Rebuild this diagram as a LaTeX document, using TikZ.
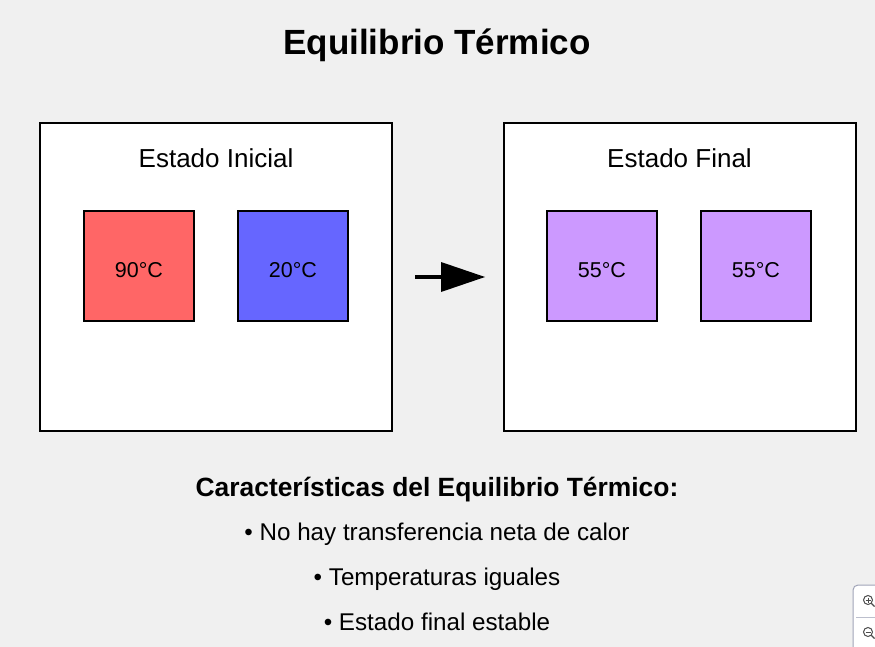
\documentclass[tikz,border=0pt]{standalone}
\usepackage{fontspec}
\setmainfont{Liberation Sans}
\definecolor{bg}{HTML}{F0F0F0}
\definecolor{hot}{HTML}{FF6666}
\definecolor{cold}{HTML}{6666FF}
\definecolor{mid}{HTML}{CC99FF}
\definecolor{uigray}{HTML}{A0A4B8}
\begin{document}
\begin{tikzpicture}[x=1pt,y=-1pt,
  panel/.style={draw=black,line width=2pt,fill=white,minimum width=352pt,minimum height=308pt,inner sep=0pt},
  sq/.style={draw=black,line width=2pt,minimum width=110pt,minimum height=110pt,inner sep=0pt},
  temp/.style={font=\fontsize{21.5}{24}\selectfont,inner sep=0pt},
  lbl/.style={font=\fontsize{26}{30}\selectfont,inner sep=0pt},
  bul/.style={font=\fontsize{24.2}{28}\selectfont,inner sep=0pt}]
\fill[bg] (0,0) rectangle (875,647);
\useasboundingbox (0,0) rectangle (875,647);
\node[font=\fontsize{35}{40}\selectfont\bfseries,inner sep=0pt] (title) at (437,45) {Equilibrio Térmico};
\node[panel] (left) at (216,277) {};
\node[panel] (right) at (679.5,277) {};
\node[lbl] (ltitle) at (216,158) {Estado Inicial};
\node[lbl] (rtitle) at (679.5,158) {Estado Final};
\node[sq,fill=hot] (h) at (139,266) {};
\node[sq,fill=cold] (c) at (293,266) {};
\node[sq,fill=mid] (f1) at (602,266) {};
\node[sq,fill=mid] (f2) at (756,266) {};
\node[temp] (ht) at (139,270) {90°C};
\node[temp] (ct) at (293,270) {20°C};
\node[temp] (f1t) at (602,270) {55°C};
\node[temp] (f2t) at (756,270) {55°C};
\coordinate (as) at (415,277);
\coordinate (ab) at (442,277);
\coordinate (ae) at (485,277);
\draw[line width=3.5pt] (as) -- (ab);
\fill[black] (441,262) -- (ae) -- (441,292) -- cycle;
\node[font=\fontsize{26.4}{30}\selectfont\bfseries,inner sep=0pt] (sub) at (437,490) {Características del Equilibrio Térmico:};
\node[bul] (b1) at (437,534) {• No hay transferencia neta de calor};
\node[bul] (b2) at (437,579) {• Temperaturas iguales};
\node[bul] (b3) at (437,622) {• Estado final estable};
% zoom widget
\draw[uigray,fill=white,line width=1pt,rounded corners=5pt] (853,585) rectangle (890,660);
\draw[uigray!70,line width=0.8pt] (856,617) -- (875,617);
\draw[black!70,line width=1pt] (868,600) circle (4.5pt);
\draw[black!70,line width=1pt] (865.5,600) -- (870.5,600) (868,597.5) -- (868,602.5);
\draw[black!70,line width=1.2pt] (871.3,603.3) -- (874.5,606.5);
\draw[black!70,line width=1pt] (868,632) circle (4.5pt);
\draw[black!70,line width=1pt] (865.5,632) -- (870.5,632);
\draw[black!70,line width=1.2pt] (871.3,635.3) -- (874.5,638.5);
\end{tikzpicture}
\end{document}
